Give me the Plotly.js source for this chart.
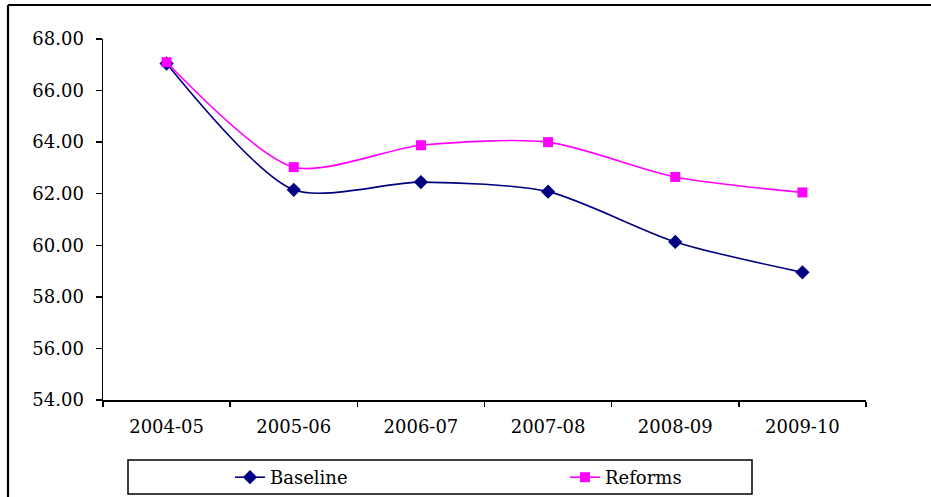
<!DOCTYPE html>
<html>
<head>
<meta charset="utf-8">
<script src="https://cdn.plot.ly/plotly-3.0.1.min.js"></script>
<style>
  html, body { margin: 0; padding: 0; background: #fff; overflow: hidden; }
  #chart { width: 931px; height: 497px; }
</style>
</head>
<body>
<div id="chart"></div>
<script>
var categories = ["2004-05", "2005-06", "2006-07", "2007-08", "2008-09", "2009-10"];
var baseline = [67.05, 62.15, 62.45, 62.08, 60.13, 58.95];
var reforms  = [67.10, 63.03, 63.88, 64.00, 62.65, 62.05];
var seriesNames = ["Baseline", "Reforms"];
var yTickVals = [54, 56, 58, 60, 62, 64, 66, 68];

var W = 931, H = 497;
var mL = 103, mR = 65, mT = 39, mB = 97;
var pw = W - mL - mR, ph = H - mT - mB;
function px(x) { return (x - mL) / pw; }
function py(y) { return (H - mB - y) / ph; }

var font = { family: "DejaVu Serif, Liberation Serif, serif", size: 18, color: "#000" };

var traces = [
  {
    x: categories, y: baseline, name: seriesNames[0], type: "scatter", mode: "lines+markers",
    line: { color: "#000080", width: 1.6, shape: "spline", smoothing: 0.75 },
    marker: { symbol: "diamond", size: 11, color: "#000080" }
  },
  {
    x: categories, y: reforms, name: seriesNames[1], type: "scatter", mode: "lines+markers",
    line: { color: "#FF00FF", width: 1.6, shape: "spline", smoothing: 0.75 },
    marker: { symbol: "square", size: 10, color: "#FF00FF" }
  }
];

var layout = {
  width: W, height: H,
  margin: { l: mL, r: mR, t: mT, b: mB, pad: 0 },
  paper_bgcolor: "#fff", plot_bgcolor: "#fff",
  font: font,
  showlegend: true,
  xaxis: {
    type: "category", range: [-0.5, 5.5], tickson: "boundaries",
    showgrid: false, zeroline: false, showline: true, linecolor: "#000", linewidth: 1.5,
    ticks: "outside", ticklen: 5, tickwidth: 1.5, tickcolor: "#000",
    ticklabelstandoff: 10, tickfont: font, fixedrange: true
  },
  yaxis: {
    range: [54, 68], tickvals: yTickVals, tickformat: ".2f",
    showgrid: false, zeroline: false, showline: true, linecolor: "#000", linewidth: 1.5,
    ticks: "outside", ticklen: 6, tickwidth: 1.5, tickcolor: "#000",
    ticklabelstandoff: 8, tickfont: font, fixedrange: true
  },
  legend: {
    orientation: "h", xref: "container", yref: "container",
    x: 230 / W, y: 1 - 459 / H, xanchor: "left", yanchor: "top",
    bgcolor: "rgba(0,0,0,0)", borderwidth: 0,
    entrywidthmode: "pixels", entrywidth: 290,
    font: font, itemclick: false, itemdoubleclick: false
  },
  shapes: [
    { type: "rect", xref: "paper", yref: "paper", x0: px(128), x1: px(752), y0: py(460), y1: py(494),
      line: { color: "#000", width: 1.5 }, fillcolor: "rgba(0,0,0,0)" },
    { type: "line", xref: "paper", yref: "paper", x0: px(8), x1: px(931), y0: py(5), y1: py(5),
      line: { color: "#000", width: 2.2 } },
    { type: "line", xref: "paper", yref: "paper", x0: px(8), x1: px(8), y0: py(5), y1: py(497),
      line: { color: "#000", width: 2.2 } }
  ]
};

Plotly.newPlot("chart", traces, layout, { displayModeBar: false, staticPlot: true });
</script>
</body>
</html>
